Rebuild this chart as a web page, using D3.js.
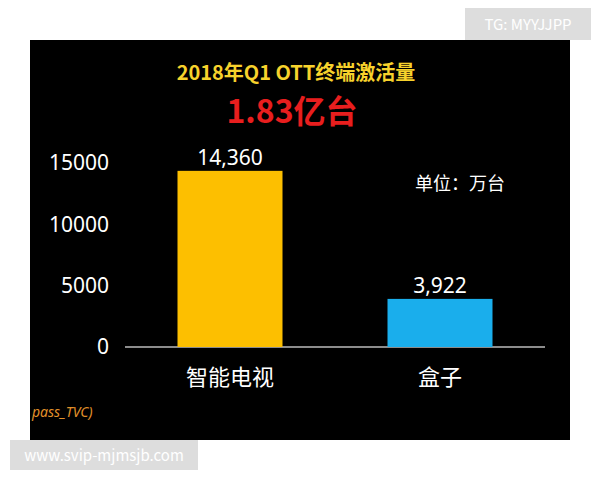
<!DOCTYPE html>
<html><head><meta charset="utf-8">
<script src="https://cdn.jsdelivr.net/npm/d3@7"></script>
<style>body{margin:0;background:#fff}</style>
</head><body>
<script>
const categories = ["智能电视", "盒子"];
const values = [14360, 3922];
const barColors = ["#fdbf00", "#1aaeec"];
const yTicks = [0, 5000, 10000, 15000];

const svg = d3.select("body").append("svg").attr("width", 600).attr("height", 480)
  .style("font-family", "'Noto Sans CJK SC', 'Noto Sans', sans-serif");

svg.append("rect").attr("x", 30).attr("y", 40).attr("width", 540).attr("height", 400).attr("fill", "#000");

// watermarks
svg.append("rect").attr("x", 465).attr("y", 8).attr("width", 126).attr("height", 32).attr("fill", "#ddd");
svg.append("text").attr("x", 528).attr("y", 30).attr("text-anchor", "middle").attr("fill", "#fff")
  .attr("font-size", 15).text("TG: MYYJJPP");
svg.append("rect").attr("x", 10).attr("y", 440).attr("width", 188).attr("height", 30).attr("fill", "#ddd");
svg.append("text").attr("x", 104).attr("y", 461).attr("text-anchor", "middle").attr("fill", "#fff")
  .attr("font-size", 15).text("www.svip-mjmsjb.com");

svg.append("text").attr("x", 296).attr("y", 80).attr("text-anchor", "middle").attr("fill", "#f7d22c")
  .attr("font-size", 20).attr("font-weight", "bold").text("2018年Q1 OTT终端激活量");
svg.append("text").attr("x", 292).attr("y", 123).attr("text-anchor", "middle").attr("fill", "#e81e1e")
  .attr("font-size", 32).attr("font-weight", "bold").text("1.83亿台");

const y = d3.scaleLinear().domain([0, 15000]).range([347, 163]);
const xb = d3.scaleBand().domain(categories).range([125, 545]).paddingInner(0.5).paddingOuter(0.25);

const yAxis = svg.append("g").attr("transform", "translate(112,0)")
  .call(d3.axisLeft(y).tickValues(yTicks).tickSize(0).tickFormat(d3.format("d")));
yAxis.select(".domain").remove();
yAxis.selectAll("text").attr("fill", "#fff").attr("font-size", 21).attr("font-family", "'Noto Sans', sans-serif");

svg.append("line").attr("x1", 125).attr("x2", 545).attr("y1", 347).attr("y2", 347).attr("stroke", "#bbb").attr("stroke-width", 1.5);

svg.selectAll(".bar").data(values).join("rect")
  .attr("x", (d, i) => xb(categories[i])).attr("width", xb.bandwidth())
  .attr("y", d => y(d)).attr("height", d => y(0) - y(d))
  .attr("fill", (d, i) => barColors[i]);

svg.selectAll(".vl").data(values).join("text")
  .attr("x", (d, i) => xb(categories[i]) + xb.bandwidth() / 2).attr("y", d => y(d) - 6)
  .attr("text-anchor", "middle").attr("fill", "#fff").attr("font-size", 21)
  .attr("font-family", "'Noto Sans', sans-serif").text(d => d3.format(",")(d));

svg.selectAll(".cl").data(categories).join("text")
  .attr("x", d => xb(d) + xb.bandwidth() / 2).attr("y", 385)
  .attr("text-anchor", "middle").attr("fill", "#fff").attr("font-size", 22).text(d => d);

svg.append("text").attr("x", 415).attr("y", 190).attr("fill", "#fff").attr("font-size", 18).text("单位：万台");
svg.append("text").attr("x", 32).attr("y", 417).attr("fill", "#e0902a").attr("font-size", 14)
  .attr("font-style", "italic").attr("font-family", "'Noto Sans', sans-serif").text("pass_TVC)");
</script>
</body></html>
